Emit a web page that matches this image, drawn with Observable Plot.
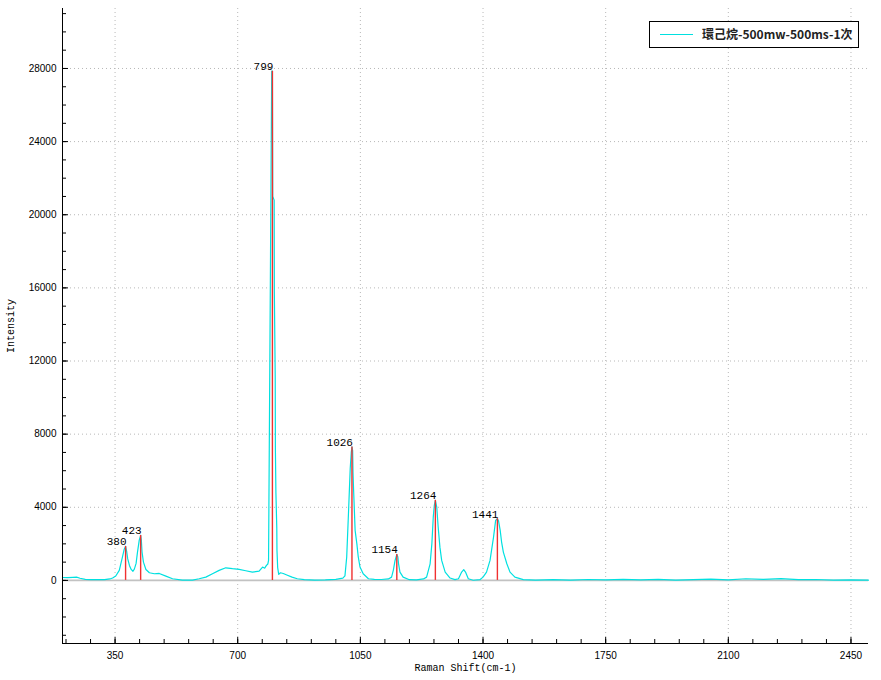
<!DOCTYPE html>
<html>
<head>
<meta charset="utf-8">
<script src="https://cdn.jsdelivr.net/npm/d3@7"></script>
<script src="https://cdn.jsdelivr.net/npm/@observablehq/plot@0.6"></script>
<style>
  html, body { margin: 0; padding: 0; background: #fff; }
  #wrap { position: relative; width: 881px; height: 680px; }
  #legend {
    position: absolute; left: 649px; top: 21px; width: 210px; height: 27px;
    box-sizing: border-box; border: 1px solid #000; background: #fff;
    font-family: "Noto Sans CJK SC", "Noto Sans CJK TC", sans-serif; font-size: 12px; font-weight: bold;
    color: #222;
  }
  #legend .sw { position: absolute; left: 10px; top: 12px; width: 33px; height: 0; border-top: 1.2px solid #00e0e0; }
  #legend .tx { position: absolute; left: 52px; top: 4px; line-height: 16px; white-space: nowrap; }
</style>
</head>
<body>
<div id="wrap">
  <div id="chart"></div>
  <div id="legend"><div class="sw"></div><div class="tx"></div></div>
</div>
<script>
// ---- data ----
const seriesName = "環己烷-500mw-500ms-1次";

const shift = [200,215,230,240,250,265,280,300,320,335,343,352,362,371,376,380,383,386,391,396,401,405,410,414,419,423,425,427,431,438,448,462,476,495,514,542,571,590,609,628,647,666,685,704,723,742,761,771,777,782,786,788,797,799,800,804,804.5,807,807.5,809,811.5,812,814,817,822,830,840,855,870,890,920,950,980,1000,1006,1011,1016,1021,1024,1026,1028,1029,1030,1035,1040,1044,1049,1058,1073,1090,1110,1130,1139,1144,1149,1154,1157,1159,1163,1172,1190,1210,1230,1239,1249,1254,1258,1261,1264,1268,1272,1277,1282,1292,1306,1320,1330,1339,1345,1350,1358,1372,1391,1400,1410,1420,1430,1436,1441,1444,1449,1453,1458,1468,1477,1491,1515,1550,1600,1650,1700,1750,1800,1850,1900,1950,2000,2050,2100,2150,2200,2250,2300,2350,2400,2450,2500];

const intensity = [160,150,170,180,120,60,45,40,45,80,130,240,550,1275,1700,1860,1600,1190,820,600,500,620,930,1550,2200,2460,2200,1550,1000,600,420,365,380,235,90,15,15,90,180,365,550,690,640,600,530,455,510,730,670,820,900,1100,27850,27850,21000,20800,15800,11100,7200,4800,2850,1650,700,330,420,380,300,180,90,40,20,30,60,130,250,1275,3650,6100,7000,7300,7100,5900,5300,2740,2000,1280,730,365,90,60,50,80,180,550,1095,1420,1280,910,455,180,40,30,80,180,910,2000,3460,4100,4380,4010,2920,1820,1095,455,130,40,90,455,590,455,90,10,40,180,450,1095,2370,3280,3375,3280,2735,2100,1550,910,455,180,40,20,45,15,50,25,60,30,55,20,40,70,30,90,60,100,40,50,20,35,15];

const peakShift = [380, 423, 799, 1026, 1154, 1264, 1441];
const peakIntensity = [1860, 2460, 27850, 7300, 1420, 4380, 3375];
const peakLabel = ["380", "423", "799", "1026", "1154", "1264", "1441"];

const xTicks = [350, 700, 1050, 1400, 1750, 2100, 2450];
const yTicks = [0, 4000, 8000, 12000, 16000, 20000, 24000, 28000];
const xDomain = [200, 2500];
const yDomain = [-3450, 31280];
const xTitle = "Raman Shift(cm-1)";
const yTitle = "Intensity";

// ---- build ----
const spectrum = shift.map((s, i) => ({s, v: intensity[i]}));
const peaks = peakShift.map((s, i) => ({s, v: peakIntensity[i], t: peakLabel[i]}));
const xMinor = d3.range(210, 2500, 70);
const yMinor = d3.range(-3000, 31001, 1000);

const W = 881, H = 680, mL = 62, mR = 13, mT = 8, mB = 37;
const pw = W - mL - mR, ph = H - mT - mB;
const cyan = "#00e0e0";
const red = "#f03030";
const mono = "Liberation Mono, DejaVu Sans Mono, monospace";
const gridStyle = {stroke: "#b8b8b8", strokeOpacity: 1, strokeDasharray: "1,3", strokeWidth: 1};

const chart = Plot.plot({
  width: W, height: H,
  marginLeft: mL, marginRight: mR, marginTop: mT, marginBottom: mB,
  style: {fontFamily: "Liberation Sans, Arial, sans-serif", fontSize: "10px", background: "#fff", color: "#000"},
  x: {domain: xDomain},
  y: {domain: yDomain},
  marks: [
    Plot.gridX(xTicks, {x: d => d, ...gridStyle}),
    Plot.gridY(yTicks.filter(d => d !== 0), {y: d => d, ...gridStyle}),
    Plot.ruleY([0], {stroke: "#c2c2c2", strokeWidth: 1.6}),
    Plot.line(spectrum, {x: "s", y: "v", stroke: cyan, strokeWidth: 1.2, curve: "linear"}),
    Plot.ruleX(peaks, {x: "s", y1: 0, y2: "v", stroke: red, strokeWidth: 1.4}),
    Plot.text(peaks, {x: "s", y: "v", text: "t", textAnchor: "end", lineAnchor: "bottom", dy: -1, dx: 1, fontFamily: mono, fontSize: 11, fill: "#000"}),
    Plot.axisX(xTicks, {x: d => d, tickSize: 0, tickPadding: 8, tickFormat: d => String(d), label: null, fontSize: 10}),
    Plot.axisY(yTicks, {y: d => d, tickSize: 0, tickPadding: 6, tickFormat: d => String(d), label: null, fontSize: 10}),
    Plot.tickX(xMinor, {x: d => d, insetTop: ph - 4, stroke: "#000"}),
    Plot.tickX(xTicks, {x: d => d, insetTop: ph - 6, stroke: "#000"}),
    Plot.tickY(yMinor, {y: d => d, insetRight: pw - 4, stroke: "#000"}),
    Plot.tickY(yTicks, {y: d => d, insetRight: pw - 6, stroke: "#000"}),
    Plot.ruleX([xDomain[0]], {x: d => d, stroke: "#000", strokeWidth: 1}),
    Plot.ruleY([yDomain[0]], {y: d => d, stroke: "#000", strokeWidth: 1}),
    Plot.text([xTitle], {text: d => d, frameAnchor: "bottom", textAnchor: "middle", dy: 27, fontFamily: mono, fontSize: 10, fill: "#000"}),
    Plot.text([yTitle], {text: d => d, frameAnchor: "left", textAnchor: "middle", lineAnchor: "middle", dx: -52, rotate: -90, fontFamily: mono, fontSize: 10, fill: "#000"})
  ]
});
document.getElementById("chart").appendChild(chart);
document.querySelector("#legend .tx").textContent = seriesName;
document.querySelector("#legend .sw").style.borderTopColor = cyan;
</script>
</body>
</html>
